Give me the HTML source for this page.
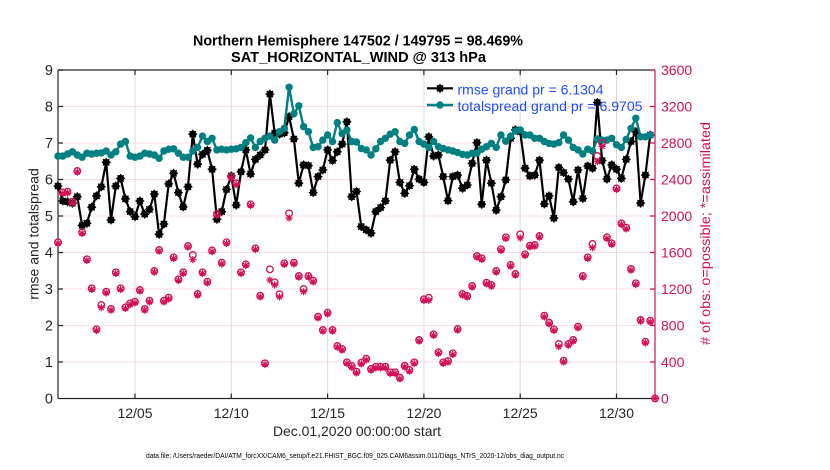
<!DOCTYPE html>
<html>
<head>
<meta charset="utf-8">
<style>
html,body{margin:0;padding:0;background:#fff;}
svg{display:block;font-family:"Liberation Sans",Arial,sans-serif;}
</style>
</head>
<body>
<svg width="830" height="470" viewBox="0 0 830 470" xmlns="http://www.w3.org/2000/svg">
<defs>
<marker id="mb" markerUnits="userSpaceOnUse" markerWidth="12" markerHeight="12" refX="6" refY="6" overflow="visible">
<circle cx="6" cy="6" r="3.6" fill="#000"/>
<path d="M6 1.6V10.4M1.6 6H10.4M2.9 2.9L9.1 9.1M2.9 9.1L9.1 2.9" stroke="#000" stroke-width="1.3" fill="none"/>
</marker>
<marker id="mt" markerUnits="userSpaceOnUse" markerWidth="12" markerHeight="12" refX="6" refY="6" overflow="visible">
<circle cx="6" cy="6" r="3.7" fill="#008080"/>
</marker>
<marker id="mo" markerUnits="userSpaceOnUse" markerWidth="12" markerHeight="12" refX="6" refY="6" overflow="visible">
<circle cx="6" cy="6" r="3.3" fill="none" stroke="#d40f57" stroke-width="1.3"/>
</marker>
<marker id="ma" markerUnits="userSpaceOnUse" markerWidth="12" markerHeight="12" refX="6" refY="6" overflow="visible">
<path d="M6 2.4V9.6M2.4 6H9.6M3.5 3.5L8.5 8.5M3.5 8.5L8.5 3.5" stroke="#d40f57" stroke-width="1.2" fill="none"/>
</marker>
</defs>
<rect width="830" height="470" fill="#fff"/>

<!-- grid -->
<g stroke="#f8dde7" stroke-width="1">
<line x1="58" y1="362" x2="655" y2="362"/>
<line x1="58" y1="325.5" x2="655" y2="325.5"/>
<line x1="58" y1="289" x2="655" y2="289"/>
<line x1="58" y1="252.5" x2="655" y2="252.5"/>
<line x1="58" y1="216" x2="655" y2="216"/>
<line x1="58" y1="179.5" x2="655" y2="179.5"/>
<line x1="58" y1="143" x2="655" y2="143"/>
<line x1="58" y1="106.5" x2="655" y2="106.5"/>
</g>
<g stroke="#dcdcdc" stroke-width="1">
<line x1="135" y1="70" x2="135" y2="398.5"/>
<line x1="231.3" y1="70" x2="231.3" y2="398.5"/>
<line x1="327.6" y1="70" x2="327.6" y2="398.5"/>
<line x1="423.9" y1="70" x2="423.9" y2="398.5"/>
<line x1="520.2" y1="70" x2="520.2" y2="398.5"/>
<line x1="616.5" y1="70" x2="616.5" y2="398.5"/>
</g>

<!-- axes -->
<g stroke="#262626" stroke-width="1.2" fill="none">
<line x1="58" y1="70" x2="655" y2="70"/>
<line x1="58" y1="398.5" x2="655" y2="398.5"/>
<line x1="58" y1="70" x2="58" y2="398.5"/>
<path d="M58 362h5M58 325.5h5M58 289h5M58 252.5h5M58 216h5M58 179.5h5M58 143h5M58 106.5h5M58 70h5"/>
<path d="M135 398.5v-5M231.3 398.5v-5M327.6 398.5v-5M423.9 398.5v-5M520.2 398.5v-5M616.5 398.5v-5"/>
<path d="M135 70v5M231.3 70v5M327.6 70v5M423.9 70v5M520.2 70v5M616.5 70v5"/>
</g>
<g stroke="#d40f57" stroke-width="1.2" fill="none">
<line x1="655" y1="70" x2="655" y2="398.5"/>
<path d="M655 362h-5M655 325.5h-5M655 289h-5M655 252.5h-5M655 216h-5M655 179.5h-5M655 143h-5M655 106.5h-5M655 70h-5"/>
</g>

<!-- rmse -->
<polyline fill="none" stroke="#000" stroke-width="2.2" stroke-linejoin="round" marker-start="url(#mb)" marker-mid="url(#mb)" marker-end="url(#mb)" points="58.0,186.1 62.8,201.0 67.6,201.8 72.4,203.2 77.3,196.7 82.1,225.5 86.9,223.3 91.7,207.2 96.5,195.9 101.3,186.8 106.2,162.3 111.0,220.0 115.8,186.1 120.6,178.4 125.4,198.8 130.2,211.6 135.0,216.7 139.9,201.0 144.7,214.2 149.5,209.4 154.3,194.1 159.1,234.3 163.9,224.0 168.7,183.9 173.6,173.3 178.4,192.6 183.2,206.9 188.0,186.8 192.8,134.2 197.6,164.2 202.5,154.3 207.3,150.3 212.1,169.3 216.9,219.3 221.7,211.6 226.5,189.4 231.3,175.9 236.2,205.1 241.0,171.8 245.8,149.9 250.6,174.0 255.4,159.4 260.2,155.0 265.0,149.9 269.9,94.1 274.7,133.1 279.5,134.2 284.3,132.8 289.1,116.7 293.9,139.0 298.8,183.2 303.6,164.9 308.4,165.6 313.2,192.6 318.0,176.6 322.8,170.0 327.6,149.9 332.5,160.5 337.3,151.8 342.1,144.1 346.9,121.8 351.7,196.7 356.5,191.5 361.3,226.6 366.2,229.9 371.0,233.2 375.8,211.6 380.6,207.6 385.4,201.0 390.2,160.2 395.1,151.8 399.9,182.4 404.7,193.4 409.5,185.7 414.3,169.3 419.1,179.1 423.9,182.4 428.8,136.8 433.6,156.1 438.4,155.0 443.2,176.6 448.0,200.7 452.8,176.6 457.6,175.1 462.5,188.3 467.3,185.0 472.1,163.4 476.9,142.6 481.7,204.3 486.5,160.2 491.4,183.2 496.2,210.2 501.0,196.7 505.8,179.9 510.6,138.3 515.4,129.9 520.2,131.7 525.1,168.2 529.9,175.9 534.7,175.1 539.5,160.2 544.3,204.0 549.1,195.9 553.9,218.2 558.8,167.5 563.6,172.6 568.4,179.1 573.2,201.8 578.0,170.0 582.8,198.5 587.7,166.0 592.5,168.2 597.3,102.5 602.1,160.5 606.9,179.1 611.7,164.9 616.5,169.3 621.4,178.4 626.2,159.4 631.0,141.5 635.8,131.7 640.6,203.2 645.4,175.1 650.2,135.0"/>

<!-- totalspread -->
<polyline fill="none" stroke="#008080" stroke-width="2.4" stroke-linejoin="round" marker-start="url(#mt)" marker-mid="url(#mt)" marker-end="url(#mt)" points="58.0,156.1 62.8,156.1 67.6,154.0 72.4,151.8 77.3,155.0 82.1,157.2 86.9,153.2 91.7,154.0 96.5,153.2 101.3,152.9 106.2,151.0 111.0,155.0 115.8,151.8 120.6,144.1 125.4,141.5 130.2,156.1 135.0,157.2 139.9,156.1 144.7,153.2 149.5,154.0 154.3,155.0 159.1,158.3 163.9,151.0 168.7,149.2 173.6,148.8 178.4,153.2 183.2,157.2 188.0,157.2 192.8,151.0 197.6,147.4 202.5,136.1 207.3,141.5 212.1,138.3 216.9,149.9 221.7,149.2 226.5,149.9 231.3,149.2 236.2,148.8 241.0,147.4 245.8,142.6 250.6,137.9 255.4,147.4 260.2,141.5 265.0,138.3 269.9,136.1 274.7,140.1 279.5,131.7 284.3,128.4 289.1,87.2 293.9,113.8 298.8,105.8 303.6,126.6 308.4,131.7 313.2,147.4 318.0,146.7 322.8,140.1 327.6,135.0 332.5,141.5 337.3,122.6 342.1,133.5 346.9,129.9 351.7,141.5 356.5,142.0 361.3,148.5 366.2,149.9 371.0,155.0 375.8,148.8 380.6,141.5 385.4,138.3 390.2,134.2 395.1,131.7 399.9,141.5 404.7,143.4 409.5,135.0 414.3,129.5 419.1,141.5 423.9,144.1 428.8,147.4 433.6,141.5 438.4,146.7 443.2,148.5 448.0,149.9 452.8,151.0 457.6,152.5 462.5,154.3 467.3,155.0 472.1,153.2 476.9,153.2 481.7,149.2 486.5,146.7 491.4,143.4 496.2,147.4 501.0,135.0 505.8,141.2 510.6,136.1 515.4,131.0 520.2,129.9 525.1,135.0 529.9,135.0 534.7,138.3 539.5,138.3 544.3,141.5 549.1,143.4 553.9,144.1 558.8,142.6 563.6,135.0 568.4,140.1 573.2,147.4 578.0,149.9 582.8,154.0 587.7,149.2 592.5,151.0 597.3,139.0 602.1,140.1 606.9,140.1 611.7,138.3 616.5,144.8 621.4,147.4 626.2,139.4 631.0,128.4 635.8,118.2 640.6,136.8 645.4,136.8 650.2,135.0"/>

<!-- obs possible (o) -->
<polyline fill="none" stroke="none" marker-start="url(#mo)" marker-mid="url(#mo)" marker-end="url(#mo)" points="58.0,242.3 62.8,192.3 67.6,191.7 72.4,201.7 77.3,171 82.1,232.3 86.9,259.3 91.7,288.3 96.5,329.3 101.3,305 106.2,291.7 111.0,309 115.8,272.3 120.6,288.3 125.4,307.3 130.2,303.3 135.0,301.7 139.9,290 144.7,309 149.5,300.7 154.3,271 159.1,250 163.9,300.7 168.7,297.7 173.6,257.3 178.4,279.3 183.2,272.3 188.0,246 192.8,255 197.6,294 202.5,272.3 207.3,281.7 212.1,250.5 216.9,214 221.7,262.7 226.5,242.3 231.3,176.7 236.2,183.3 241.0,272.3 245.8,264.3 250.6,204.3 255.4,248.3 260.2,295.7 265.0,363.3 269.9,269.3 274.7,282.3 279.5,294.3 284.3,263.3 289.1,213.3 293.9,262.7 298.8,276 303.6,289 308.4,276 313.2,280.7 318.0,316.7 322.8,330 327.6,312.7 332.5,330 337.3,346 342.1,349 346.9,362.3 351.7,366 356.5,371.7 361.3,362.7 366.2,358.7 371.0,369 375.8,366.7 380.6,366.7 385.4,366.7 390.2,372.3 395.1,372.3 399.9,377.7 404.7,365.7 409.5,370 414.3,362.3 419.1,340 423.9,299.3 428.8,297.7 433.6,334.3 438.4,352.3 443.2,362.3 448.0,361 452.8,353.3 457.6,329 462.5,294 467.3,296 472.1,286 476.9,256 481.7,258.3 486.5,282.7 491.4,285 496.2,271 501.0,249.3 505.8,237.3 510.6,265 515.4,274 520.2,234.3 525.1,254.3 529.9,245.7 534.7,245 539.5,236 544.3,315.7 549.1,322.7 553.9,329.3 558.8,344 563.6,360.7 568.4,344 573.2,340 578.0,326.7 582.8,276 587.7,257.3 592.5,244 597.3,156 602.1,142.7 606.9,237.3 611.7,243.3 616.5,188.3 621.4,223.3 626.2,227.7 631.0,269 635.8,283.3 640.6,320 645.4,341.7 650.2,320.7 655.1,398.5"/>

<!-- obs assimilated (*) -->
<polyline transform="translate(0,-1.3)" fill="none" stroke="none" marker-start="url(#ma)" marker-mid="url(#ma)" marker-end="url(#ma)" points="58.0,244.8 62.8,194.8 67.6,194.2 72.4,204.2 77.3,173.5 82.1,234.8 86.9,261.8 91.7,290.8 96.5,331.8 101.3,309 106.2,294.2 111.0,311.5 115.8,274.8 120.6,290.8 125.4,309.8 130.2,305.8 135.0,304.2 139.9,292.5 144.7,311.5 149.5,303.2 154.3,273.5 159.1,252.5 163.9,303.2 168.7,300.2 173.6,259.8 178.4,281.8 183.2,274.8 188.0,248.5 192.8,261 197.6,296.5 202.5,274.8 207.3,284.2 212.1,253 216.9,217 221.7,265.2 226.5,244.8 231.3,179.2 236.2,185.8 241.0,274.8 245.8,266.8 250.6,206.8 255.4,250.8 260.2,298.2 265.0,365.8 269.9,281.3 274.7,286.3 279.5,298.3 284.3,265.8 289.1,219.3 293.9,265.2 298.8,278.5 303.6,293 308.4,278.5 313.2,283.2 318.0,319.2 322.8,332.5 327.6,315.2 332.5,332.5 337.3,348.5 342.1,351.5 346.9,364.8 351.7,368.5 356.5,374.2 361.3,365.2 366.2,361.2 371.0,371.5 375.8,369.2 380.6,369.2 385.4,369.2 390.2,374.8 395.1,374.8 399.9,380.2 404.7,368.2 409.5,372.5 414.3,364.8 419.1,342.5 423.9,301.8 428.8,301.7 433.6,336.8 438.4,354.8 443.2,364.8 448.0,363.5 452.8,355.8 457.6,331.5 462.5,296.5 467.3,298.5 472.1,288.5 476.9,258.5 481.7,260.8 486.5,285.2 491.4,287.5 496.2,273.5 501.0,251.8 505.8,239.8 510.6,267.5 515.4,276.5 520.2,239.3 525.1,256.8 529.9,248.2 534.7,247.5 539.5,238.5 544.3,318.2 549.1,325.2 553.9,331.8 558.8,348 563.6,363.2 568.4,346.5 573.2,342.5 578.0,329.2 582.8,278.5 587.7,259.8 592.5,249 597.3,163 602.1,147.7 606.9,239.8 611.7,245.8 616.5,190.8 621.4,225.8 626.2,230.2 631.0,271.5 635.8,285.8 640.6,322.5 645.4,344.2 650.2,323.2 655.1,399.8"/>

<!-- legend -->
<line x1="427" y1="88.3" x2="453" y2="88.3" stroke="#000" stroke-width="2.2"/>
<circle cx="440" cy="88.3" r="3.6" fill="#000"/>
<path d="M440 83.9V92.7M435.6 88.3H444.4M436.9 85.2L443.1 91.4M436.9 91.4L443.1 85.2" stroke="#000" stroke-width="1.3"/>
<line x1="427" y1="105" x2="453" y2="105" stroke="#008080" stroke-width="2.4"/>
<circle cx="440" cy="105" r="3.7" fill="#008080"/>
<text x="457.5" y="94.3" font-size="14" fill="#1f4cff" textLength="146" lengthAdjust="spacingAndGlyphs">rmse grand pr = 6.1304</text>
<text x="457.5" y="111" font-size="14" fill="#1f4cff" textLength="185" lengthAdjust="spacingAndGlyphs">totalspread grand pr = 6.9705</text>

<!-- titles -->
<text x="358" y="45.5" font-size="14.5" font-weight="bold" text-anchor="middle" fill="#000" textLength="330" lengthAdjust="spacingAndGlyphs">Northern Hemisphere 147502 / 149795 = 98.469%</text>
<text x="358.5" y="62" font-size="14.5" font-weight="bold" text-anchor="middle" fill="#000" textLength="255" lengthAdjust="spacingAndGlyphs">SAT_HORIZONTAL_WIND @ 313 hPa</text>

<!-- left tick labels -->
<g font-size="14.5" fill="#262626" text-anchor="end">
<text x="53" y="403.7">0</text>
<text x="53" y="367.2">1</text>
<text x="53" y="330.7">2</text>
<text x="53" y="294.2">3</text>
<text x="53" y="257.7">4</text>
<text x="53" y="221.2">5</text>
<text x="53" y="184.7">6</text>
<text x="53" y="148.2">7</text>
<text x="53" y="111.7">8</text>
<text x="53" y="75.2">9</text>
</g>
<!-- right tick labels -->
<g font-size="14" fill="#d40f57">
<text x="661" y="403.5">0</text>
<text x="661" y="367">400</text>
<text x="661" y="330.5">800</text>
<text x="661" y="294">1200</text>
<text x="661" y="257.5">1600</text>
<text x="661" y="221">2000</text>
<text x="661" y="184.5">2400</text>
<text x="661" y="148">2800</text>
<text x="661" y="111.5">3200</text>
<text x="661" y="75">3600</text>
</g>
<!-- x tick labels -->
<g font-size="14" fill="#262626" text-anchor="middle">
<text x="135" y="418">12/05</text>
<text x="231.3" y="418">12/10</text>
<text x="327.6" y="418">12/15</text>
<text x="423.9" y="418">12/20</text>
<text x="520.2" y="418">12/25</text>
<text x="616.5" y="418">12/30</text>
</g>
<text x="357" y="436" font-size="14" fill="#262626" text-anchor="middle" textLength="168" lengthAdjust="spacingAndGlyphs">Dec.01,2020 00:00:00 start</text>

<!-- axis labels -->
<text transform="translate(38.5,234) rotate(-90)" font-size="14" fill="#262626" text-anchor="middle">rmse and totalspread</text>
<text transform="translate(710,233.5) rotate(-90)" font-size="14" fill="#d40f57" text-anchor="middle" textLength="223" lengthAdjust="spacingAndGlyphs"># of obs: o=possible; *=assimilated</text>

<!-- footnote -->
<text x="355" y="458" font-size="7" fill="#000" text-anchor="middle" textLength="418" lengthAdjust="spacingAndGlyphs">data file: /Users/raeder/DAI/ATM_forcXX/CAM6_setup/f.e21.FHIST_BGC.f09_025.CAM6assim.011/Diags_NTrS_2020-12/obs_diag_output.nc</text>
</svg>
</body>
</html>
